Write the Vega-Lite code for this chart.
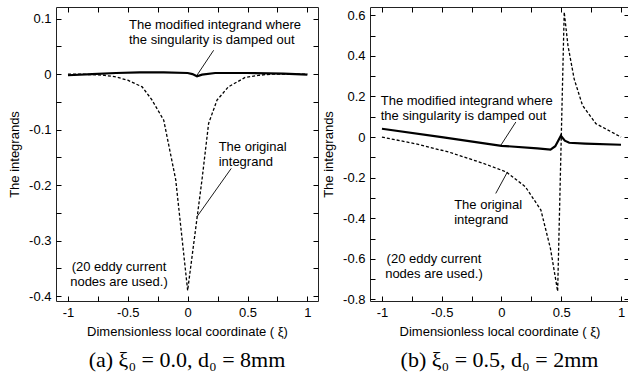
{
  "$schema": "https://vega.github.io/schema/vega-lite/v6.json",
  "background": "white",
  "padding": {"left": 8, "top": 6, "right": 0, "bottom": 0},
  "autosize": {"type": "pad"},
  "spacing": 3,
  "config": {
    "view": {"stroke": "#222", "strokeWidth": 1},
    "axis": {
      "labelFont": "Liberation Sans", "labelFontSize": 13, "labelColor": "#000",
      "titleFont": "Liberation Sans", "titleFontSize": 13, "titleFontWeight": "normal", "titleColor": "#000",
      "domain": false, "grid": false, "tickColor": "#000", "tickSize": -5, "tickWidth": 1,
      "labelFlush": false, "labelOverlap": false
    },
    "title": {"font": "Liberation Serif", "fontSize": 22, "fontWeight": "normal", "color": "#000", "orient": "bottom", "anchor": "middle"},
    "text": {"font": "Liberation Sans", "fontSize": 13, "color": "#000"}
  },
  "datasets": {
    "curvesA": [
      {"s": "o", "x": -1, "y": 0}, {"s": "o", "x": -0.9, "y": 0}, {"s": "o", "x": -0.8, "y": -0.001},
      {"s": "o", "x": -0.7, "y": -0.002}, {"s": "o", "x": -0.6, "y": -0.005}, {"s": "o", "x": -0.5, "y": -0.011},
      {"s": "o", "x": -0.38, "y": -0.023}, {"s": "o", "x": -0.3, "y": -0.046}, {"s": "o", "x": -0.2, "y": -0.083},
      {"s": "o", "x": -0.1, "y": -0.19}, {"s": "o", "x": 0, "y": -0.39}, {"s": "o", "x": 0.12, "y": -0.19},
      {"s": "o", "x": 0.175, "y": -0.089}, {"s": "o", "x": 0.245, "y": -0.047}, {"s": "o", "x": 0.34, "y": -0.023},
      {"s": "o", "x": 0.48, "y": -0.006}, {"s": "o", "x": 0.6, "y": -0.002}, {"s": "o", "x": 0.7, "y": 0},
      {"s": "o", "x": 0.8, "y": 0}, {"s": "o", "x": 0.9, "y": 0}, {"s": "o", "x": 1, "y": 0},
      {"s": "m", "x": -1, "y": -0.002}, {"s": "m", "x": -0.8, "y": 0.0}, {"s": "m", "x": -0.6, "y": 0.002},
      {"s": "m", "x": -0.4, "y": 0.003}, {"s": "m", "x": -0.2, "y": 0.003}, {"s": "m", "x": 0, "y": 0.002},
      {"s": "m", "x": 0.04, "y": 0.0}, {"s": "m", "x": 0.078, "y": -0.004}, {"s": "m", "x": 0.12, "y": -0.001},
      {"s": "m", "x": 0.23, "y": 0.002}, {"s": "m", "x": 0.5, "y": 0.002}, {"s": "m", "x": 0.8, "y": 0.001},
      {"s": "m", "x": 1, "y": -0.001}
    ],
    "curvesB": [
      {"s": "o", "x": -1, "y": 0}, {"s": "o", "x": -0.72, "y": -0.033}, {"s": "o", "x": -0.44, "y": -0.074},
      {"s": "o", "x": -0.16, "y": -0.128}, {"s": "o", "x": 0.04, "y": -0.172}, {"s": "o", "x": 0.2, "y": -0.245},
      {"s": "o", "x": 0.33, "y": -0.36}, {"s": "o", "x": 0.41, "y": -0.55}, {"s": "o", "x": 0.47, "y": -0.76},
      {"s": "o", "x": 0.525, "y": 0.616}, {"s": "o", "x": 0.556, "y": 0.452}, {"s": "o", "x": 0.608, "y": 0.287},
      {"s": "o", "x": 0.678, "y": 0.156}, {"s": "o", "x": 0.79, "y": 0.066}, {"s": "o", "x": 1, "y": 0},
      {"s": "m", "x": -1, "y": 0.041}, {"s": "m", "x": -0.5, "y": 0.0}, {"s": "m", "x": 0, "y": -0.043},
      {"s": "m", "x": 0.3, "y": -0.056}, {"s": "m", "x": 0.41, "y": -0.062}, {"s": "m", "x": 0.45, "y": -0.045},
      {"s": "m", "x": 0.497, "y": 0.006}, {"s": "m", "x": 0.53, "y": -0.018}, {"s": "m", "x": 0.567, "y": -0.028},
      {"s": "m", "x": 0.7, "y": -0.032}, {"s": "m", "x": 1, "y": -0.038}
    ]
  },
  "hconcat": [
    {
      "width": 262, "height": 294,
      "title": {"text": "(a) ξ₀ = 0.0,  d₀ = 8mm", "offset": 12},
      "layer": [
        {
          "data": {"name": "curvesA"},
          "transform": [{"filter": "datum.s == 'o'"}],
          "mark": {"type": "line", "color": "#000", "strokeWidth": 1.3, "strokeDash": [3, 2]},
          "encoding": {
            "x": {"field": "x", "type": "quantitative", "scale": {"domain": [-1.1, 1.089], "nice": false, "zero": false},
              "axis": {"orient": "bottom", "values": [-1, -0.75, -0.5, -0.25, 0, 0.25, 0.5, 0.75, 1],
                "labelExpr": "abs(round(datum.value*4))%2==0 ? ''+datum.value : ''",
                "labelPadding": 10, "title": "Dimensionless local coordinate ( ξ)", "titlePadding": 6}},
            "y": {"field": "y", "type": "quantitative", "scale": {"domain": [-0.409, 0.121], "nice": false, "zero": false},
              "axis": {"orient": "left", "values": [-0.4, -0.35, -0.3, -0.25, -0.2, -0.15, -0.1, -0.05, 0, 0.05, 0.1],
                "labelExpr": "abs(round(datum.value*20))%2==0 ? ''+round(datum.value*10)/10 : ''",
                "labelPadding": 10, "title": "The integrands", "titlePadding": 7}}
          }
        },
        {
          "data": {"name": "curvesA"},
          "transform": [{"filter": "datum.s == 'm'"}],
          "mark": {"type": "line", "color": "#000", "strokeWidth": 2.2},
          "encoding": {
            "x": {"field": "x", "type": "quantitative", "scale": {"domain": [-1.1, 1.089], "nice": false, "zero": false},
              "axis": {"orient": "top", "values": [-1, -0.75, -0.5, -0.25, 0, 0.25, 0.5, 0.75, 1], "labels": false, "title": null}},
            "y": {"field": "y", "type": "quantitative", "scale": {"domain": [-0.409, 0.121], "nice": false, "zero": false},
              "axis": {"orient": "right", "values": [-0.4, -0.35, -0.3, -0.25, -0.2, -0.15, -0.1, -0.05, 0, 0.05, 0.1], "labels": false, "title": null}}
          }
        },
        {
          "data": {"values": [
            {"x": 0.217, "y": 0.043, "x2": 0.078, "y2": -0.002},
            {"x": 0.364, "y": -0.17, "x2": 0.078, "y2": -0.257}
          ]},
          "mark": {"type": "rule", "color": "#000", "strokeWidth": 0.9},
          "encoding": {
            "x": {"field": "x", "type": "quantitative", "axis": null},
            "y": {"field": "y", "type": "quantitative", "axis": null},
            "x2": {"field": "x2"}, "y2": {"field": "y2"}
          }
        },
        {
          "data": {"values": [
            {"x": -0.49, "y": 0.0883, "t": "The modified integrand where\nthe singularity is damped out"},
            {"x": 0.259, "y": -0.131, "t": "The original\nintegrand"}
          ]},
          "mark": {"type": "text", "align": "left", "baseline": "middle", "lineBreak": "\n", "lineHeight": 15},
          "encoding": {
            "x": {"field": "x", "type": "quantitative", "axis": null},
            "y": {"field": "y", "type": "quantitative", "axis": null},
            "text": {"field": "t"}
          }
        },
        {
          "data": {"values": [
            {"x": -0.574, "y": -0.3486, "t": "(20 eddy current\nnodes are used.)"}
          ]},
          "mark": {"type": "text", "align": "center", "baseline": "middle", "lineBreak": "\n", "lineHeight": 15},
          "encoding": {
            "x": {"field": "x", "type": "quantitative", "axis": null},
            "y": {"field": "y", "type": "quantitative", "axis": null},
            "text": {"field": "t"}
          }
        }
      ]
    },
    {
      "width": 259, "height": 294,
      "title": {"text": "(b) ξ₀ = 0.5,  d₀ = 2mm", "offset": 12},
      "layer": [
        {
          "data": {"name": "curvesB"},
          "transform": [{"filter": "datum.s == 'o'"}],
          "mark": {"type": "line", "color": "#000", "strokeWidth": 1.3, "strokeDash": [3, 2]},
          "encoding": {
            "x": {"field": "x", "type": "quantitative", "scale": {"domain": [-1.1, 1.067], "nice": false, "zero": false},
              "axis": {"orient": "bottom", "values": [-1, -0.75, -0.5, -0.25, 0, 0.25, 0.5, 0.75, 1],
                "labelExpr": "abs(round(datum.value*4))%2==0 ? ''+datum.value : ''",
                "labelPadding": 10, "title": "Dimensionless local coordinate ( ξ)", "titlePadding": 6}},
            "y": {"field": "y", "type": "quantitative", "scale": {"domain": [-0.808, 0.641], "nice": false, "zero": false},
              "axis": {"orient": "left", "values": [-0.8, -0.7, -0.6, -0.5, -0.4, -0.3, -0.2, -0.1, 0, 0.1, 0.2, 0.3, 0.4, 0.5, 0.6],
                "labelExpr": "abs(round(datum.value*10))%2==0 ? ''+round(datum.value*10)/10 : ''",
                "labelPadding": 10, "title": "The integrands", "titlePadding": 7}}
          }
        },
        {
          "data": {"name": "curvesB"},
          "transform": [{"filter": "datum.s == 'm'"}],
          "mark": {"type": "line", "color": "#000", "strokeWidth": 2.2},
          "encoding": {
            "x": {"field": "x", "type": "quantitative", "scale": {"domain": [-1.1, 1.067], "nice": false, "zero": false},
              "axis": {"orient": "top", "values": [-1, -0.75, -0.5, -0.25, 0, 0.25, 0.5, 0.75, 1], "labels": false, "title": null}},
            "y": {"field": "y", "type": "quantitative", "scale": {"domain": [-0.808, 0.641], "nice": false, "zero": false},
              "axis": {"orient": "right", "values": [-0.8, -0.7, -0.6, -0.5, -0.4, -0.3, -0.2, -0.1, 0, 0.1, 0.2, 0.3, 0.4, 0.5, 0.6], "labels": false, "title": null}}
          }
        },
        {
          "data": {"values": [
            {"x": 0.12, "y": 0.074, "x2": -0.006, "y2": -0.041},
            {"x": -0.048, "y": -0.278, "x2": 0.05, "y2": -0.172}
          ]},
          "mark": {"type": "rule", "color": "#000", "strokeWidth": 0.9},
          "encoding": {
            "x": {"field": "x", "type": "quantitative", "axis": null},
            "y": {"field": "y", "type": "quantitative", "axis": null},
            "x2": {"field": "x2"}, "y2": {"field": "y2"}
          }
        },
        {
          "data": {"values": [
            {"x": -1.01, "y": 0.177, "t": "The modified integrand where\nthe singularity is damped out"},
            {"x": -0.396, "y": -0.3355, "t": "The original\nintegrand"}
          ]},
          "mark": {"type": "text", "align": "left", "baseline": "middle", "lineBreak": "\n", "lineHeight": 15},
          "encoding": {
            "x": {"field": "x", "type": "quantitative", "axis": null},
            "y": {"field": "y", "type": "quantitative", "axis": null},
            "text": {"field": "t"}
          }
        },
        {
          "data": {"values": [
            {"x": -0.565, "y": -0.601, "t": "(20 eddy current\nnodes are used.)"}
          ]},
          "mark": {"type": "text", "align": "center", "baseline": "middle", "lineBreak": "\n", "lineHeight": 15},
          "encoding": {
            "x": {"field": "x", "type": "quantitative", "axis": null},
            "y": {"field": "y", "type": "quantitative", "axis": null},
            "text": {"field": "t"}
          }
        }
      ]
    }
  ]
}
